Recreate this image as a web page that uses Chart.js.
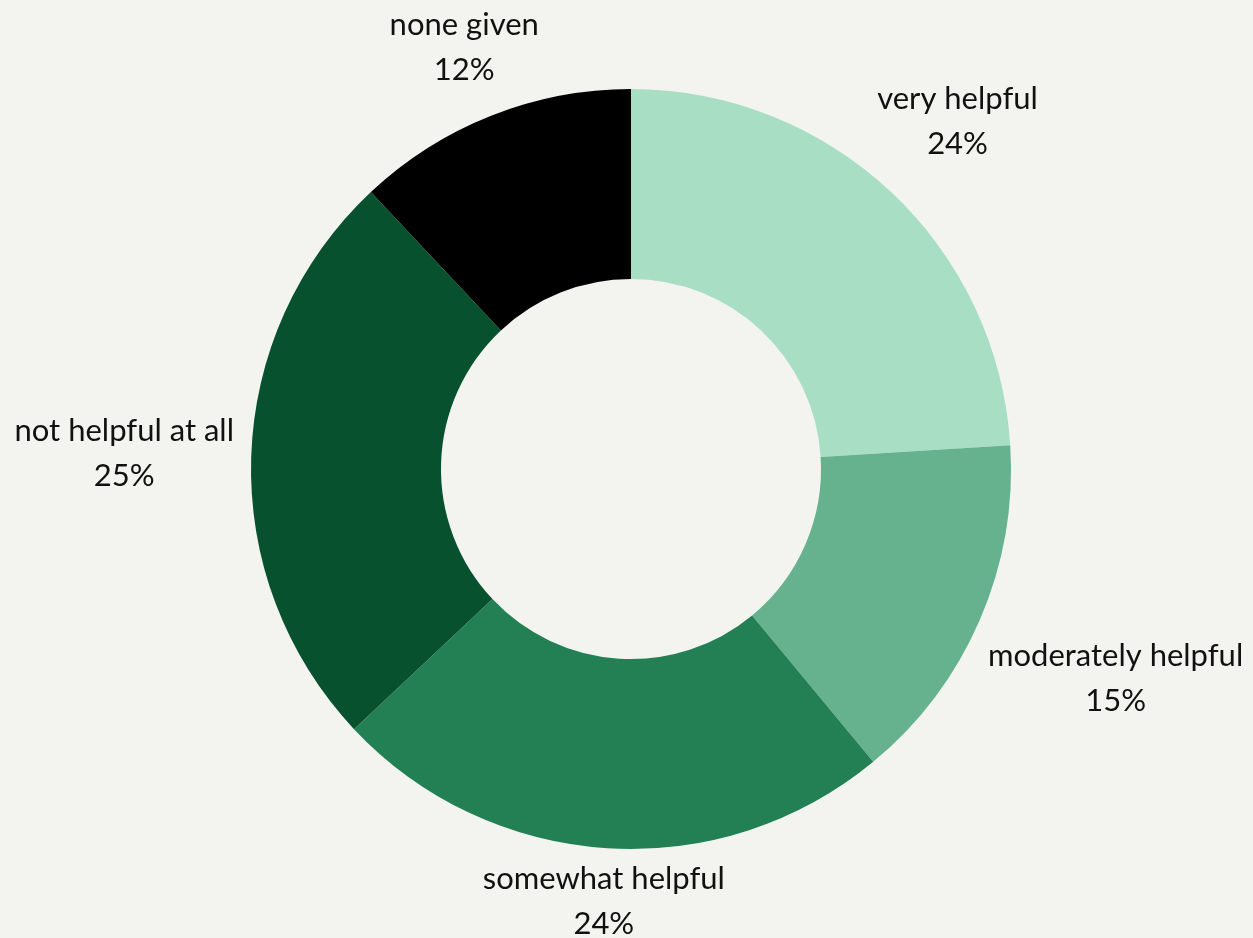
<!DOCTYPE html>
<html>
<head>
<meta charset="utf-8">
<script src="https://cdn.jsdelivr.net/npm/chart.js@4"></script>
<style>
  html, body { margin: 0; padding: 0; background: #f3f4ef; }
  #wrap { width: 1253px; height: 938px; }
</style>
</head>
<body>
<div id="wrap"><canvas id="myChartAyuda"></canvas></div>
<script>
const categorias = ['very helpful', 'moderately helpful', 'somewhat helpful', 'not helpful at all', 'none given']
const porcentajes = [24, 15, 24, 25, 12]
const colores = ['#a8dec4', '#66b28f', '#238054', '#07512f', '#000000']

// distancia del origen al rectangulo centrado en (cx, cy)
const distRect = (cx, cy, hw, hh) => {
    const dx = Math.max(Math.abs(cx) - hw, 0)
    const dy = Math.max(Math.abs(cy) - hh, 0)
    return Math.sqrt(dx * dx + dy * dy)
}

// etiquetas fuera del anillo: nombre + porcentaje
const etiquetasFuera = {
    id: 'etiquetasFuera',
    afterDatasetsDraw(chart) {
        const c = chart.ctx
        const meta = chart.getDatasetMeta(0)
        c.save()
        c.font = '31px Lato, "Open Sans", sans-serif'
        c.fillStyle = '#111111'
        c.textAlign = 'center'
        c.textBaseline = 'middle'
        const lineH = 45
        const hh = 35
        meta.data.forEach((arc, i) => {
            const p = arc.getProps(['x', 'y', 'startAngle', 'endAngle', 'outerRadius'], true)
            const mid = (p.startAngle + p.endAngle) / 2
            const sep = p.outerRadius + 17
            const lineas = [categorias[i], porcentajes[i] + '%']
            const hw = Math.max(...lineas.map(t => c.measureText(t).width)) / 2
            // empujar la caja hacia afuera hasta que quede a 'sep' del centro
            let t = 0
            while (distRect(Math.cos(mid) * t, Math.sin(mid) * t, hw, hh) < sep) t += 1
            const cx = p.x + Math.cos(mid) * t
            const cy = p.y + Math.sin(mid) * t
            c.fillText(lineas[0], cx, cy - lineH / 2)
            c.fillText(lineas[1], cx, cy + lineH / 2)
        })
        c.restore()
    }
}

var ctx = document.getElementById('myChartAyuda')
var myChart = new Chart(ctx, {
    type: 'doughnut',
    data: {
        labels: categorias,
        datasets: [{
            data: porcentajes,
            backgroundColor: colores,
            borderWidth: 0
        }]
    },
    options: {
        responsive: true,
        maintainAspectRatio: false,
        animation: false,
        cutout: '50%',
        layout: { padding: { top: 89, bottom: 89, left: 251, right: 242 } },
        plugins: {
            legend: { display: false },
            tooltip: { enabled: false }
        }
    },
    plugins: [etiquetasFuera]
})
</script>
</body>
</html>
